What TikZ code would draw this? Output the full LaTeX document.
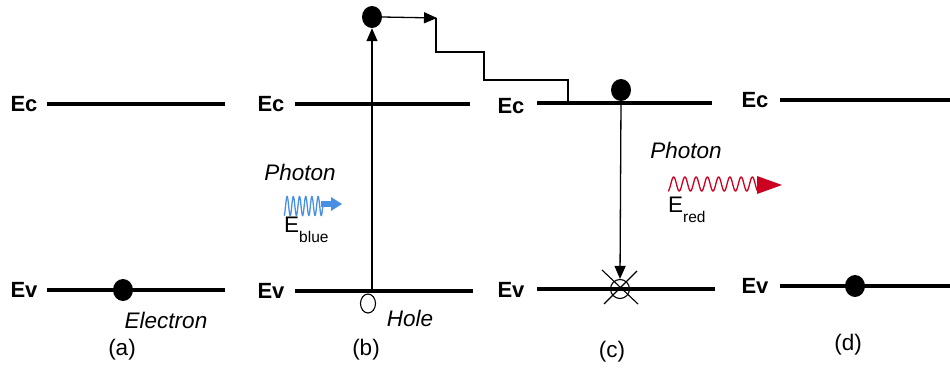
\documentclass[tikz,border=0pt]{standalone}
\usepackage{fontspec}
\setmainfont{Liberation Sans}
\usetikzlibrary{arrows.meta,shapes.geometric}
\definecolor{pblue}{RGB}{74,144,226}
\definecolor{pred}{RGB}{204,0,32}
\tikzset{
  level/.style={line width=3.6pt},
  lvlabel/.style={font=\fontsize{22}{22}\selectfont\bfseries, inner sep=0pt},
  lbl/.style={font=\fontsize{22.5}{22.5}\selectfont, inner sep=0pt},
  ilbl/.style={font=\fontsize{22.5}{22.5}\selectfont\itshape, inner sep=0pt},
  electron/.style={ellipse, fill=black, minimum width=20pt, minimum height=22pt, inner sep=0pt},
  holec/.style={ellipse, draw=black, line width=1.1pt, minimum width=15pt, minimum height=19pt, inner sep=0pt},
  trans/.style={line width=1.3pt, -{Triangle[length=13pt,width=11pt]}},
}
\newcommand{\Esub}[1]{E\raisebox{-0.42em}{\fontsize{15.5}{15.5}\selectfont #1}}
\begin{document}
\begin{tikzpicture}[x=1pt,y=-1pt]
\useasboundingbox (0,0) rectangle (950,367);
% ---------- (a)
\node[lvlabel] (ca) at (24,104) {Ec};
\coordinate (ca1) at (47,104); \coordinate (ca2) at (225,104);
\draw[level] (ca1) -- (ca2);
\node[lvlabel] (va) at (24,290) {Ev};
\coordinate (va1) at (47,290); \coordinate (va2) at (225,290);
\draw[level] (va1) -- (va2);
\node[electron] (ea) at (123,290) {};
\node[ilbl] at (166,320) {Electron};
\node[lbl] at (122,350) {(a)};
% ---------- (b)
\node[lvlabel] (cb) at (271,104) {Ec};
\coordinate (cb1) at (295,104); \coordinate (cb2) at (470,104);
\draw[level] (cb1) -- (cb2);
\node[lvlabel] (vb) at (271,291) {Ev};
\coordinate (vb1) at (295,291); \coordinate (vb2) at (473,291);
\draw[level] (vb1) -- (vb2);
\node[electron] (eb) at (372,17) {};
\coordinate (vb0) at (372,289);
\draw[trans] (vb0) -- (eb.south);
\coordinate (s1) at (437,18);
\draw[trans] (eb.east) -- (s1);
\coordinate (s2) at (436,52); \coordinate (s3) at (484,52);
\coordinate (s4) at (484,80); \coordinate (s5) at (568,80);
\coordinate (s6) at (568,104);
\draw[line width=1.3pt] (436,18) -- (s2) -- (s3) -- (s4) -- (s5) -- (s6);
\node[holec] (hb) at (368,303.5) {};
\node[ilbl] at (410,318) {Hole};
\node[lbl] at (366,350) {(b)};
% blue photon
\node[ilbl] at (300,172) {Photon};
\draw[pblue, line width=1.3pt] plot[domain=0:39, samples=200, smooth] (284+\x, {206 + 9.5*sin(58*\x + 90)});
\draw[pblue, line width=6pt] (321,204) -- (332,204);
\fill[pblue] (331,197) -- (342,204) -- (331,211) -- cycle;
\node[lbl, anchor=west] at (284,230) {\Esub{blue}};
% ---------- (c)
\node[lvlabel] (cc) at (511,106) {Ec};
\coordinate (cc1) at (537,103); \coordinate (cc2) at (712,103);
\draw[level] (cc1) -- (cc2);
\node[lvlabel] (vc) at (511,290) {Ev};
\coordinate (vc1) at (537,289); \coordinate (vc2) at (715,289);
\draw[level] (vc1) -- (vc2);
\node[electron] (ec) at (621,90) {};
\node[holec, minimum width=19pt, minimum height=19pt] (hc) at (620,289) {};
\draw[trans] (ec.south) -- (hc.north);
\coordinate (x1) at (602,270); \coordinate (x2) at (638,304);
\coordinate (x3) at (637,271); \coordinate (x4) at (604,304);
\draw[line width=1.1pt] (x1) -- (x2);
\draw[line width=1.1pt] (x3) -- (x4);
\node[lbl] at (612,352) {(c)};
% red photon
\node[ilbl] at (686,150) {Photon};
\draw[pred, line width=1.3pt] plot[domain=0:92, samples=300, smooth] (668+\x, {184 + 7*sin(32*\x + 90)});
\fill[pred] (757,176) -- (782,185) -- (757,194) -- cycle;
\node[lbl, anchor=west] at (668,210) {\Esub{red}};
% ---------- (d)
\node[lvlabel] (cd) at (755,100) {Ec};
\coordinate (cd1) at (780,100); \coordinate (cd2) at (950,100);
\draw[level] (cd1) -- (cd2);
\node[lvlabel] (vd) at (755,286) {Ev};
\coordinate (vd1) at (780,286); \coordinate (vd2) at (950,286);
\draw[level] (vd1) -- (vd2);
\node[electron] (ed) at (855,286) {};
\node[lbl] at (848,345) {(d)};
\end{tikzpicture}
\end{document}
